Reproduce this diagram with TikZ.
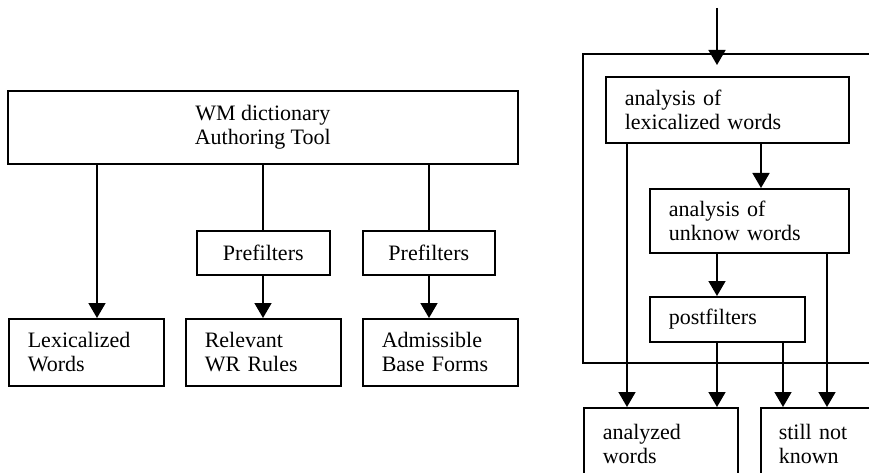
\documentclass[tikz,border=0pt]{standalone}
\usepackage{fontspec}
\setmainfont{Liberation Serif}
\usetikzlibrary{arrows.meta}
\tikzset{
  box/.style={draw, line width=1.6pt, anchor=north west, inner ysep=0pt, font=\fontsize{22}{24}\selectfont},
  lbox/.style={box, align=left, inner xsep=19pt},
  cbox/.style={box, align=center, inner xsep=0pt},
  arr/.style={line width=1.6pt, -{Triangle[width=17pt,length=15pt]}},
  ln/.style={line width=1.6pt},
}
\begin{document}
\begin{tikzpicture}[x=1pt,y=-1pt]
\clip (0,0) rectangle (869,473);
% left part
\node[cbox, minimum width=510pt, minimum height=73pt] (tool) at (7,90) {WM dictionary\\Authoring Tool};
\node[lbox, text width=117pt, minimum height=67pt] (lex) at (8,318) {Lexicalized\\Words};
\node[lbox, text width=117pt, minimum height=67pt] (rel) at (185,318) {Relevant\\WR Rules};
\node[lbox, text width=117pt, minimum height=67pt] (adm) at (362,318) {Admissible\\Base Forms};
\node[cbox, minimum width=133pt, minimum height=44pt] (pre1) at (196,230) {Prefilters};
\node[cbox, minimum width=132pt, minimum height=44pt] (pre2) at (362,230) {Prefilters};
\coordinate (c1) at (97,0);
\coordinate (c2) at (263,0);
\coordinate (c3) at (429,0);
\draw[arr] (tool.south -| c1) -- (lex.north -| c1);
\draw[ln] (tool.south -| c2) -- (pre1.north -| c2);
\draw[arr] (pre1.south -| c2) -- (rel.north -| c2);
\draw[ln] (tool.south -| c3) -- (pre2.north -| c3);
\draw[arr] (pre2.south -| c3) -- (adm.north -| c3);
% right part
\draw[ln] (890,54) -- (583,54) -- (583,363) -- (890,363);
\node[lbox, text width=205pt, minimum height=66pt] (a1) at (605,76) {analysis of\\lexicalized words};
\node[lbox, text width=161pt, minimum height=64pt] (a2) at (649,188) {analysis of\\unknow words};
\node[lbox, text width=117pt, minimum height=45pt] (post) at (649,296) {postfilters};
\node[lbox, text width=116pt, minimum height=72pt] (anw) at (583,407) {analyzed\\words};
\node[lbox, inner xsep=18pt, text width=124pt, minimum height=72pt] (snk) at (760,407) {still not\\known};
\coordinate (in) at (717,8);
\coordinate (d1) at (627,0);
\coordinate (d2) at (717,0);
\coordinate (d3) at (761,0);
\coordinate (d4) at (783,0);
\coordinate (d5) at (827,0);
\draw[arr, shorten >=11pt] (in) -- (a1.north -| in);
\draw[arr] (a1.south -| d1) -- (anw.north -| d1);
\draw[arr] (a1.south -| d3) -- (a2.north -| d3);
\draw[arr] (a2.south -| d2) -- (post.north -| d2);
\draw[arr] (post.south -| d2) -- (anw.north -| d2);
\draw[arr] (post.south -| d4) -- (snk.north -| d4);
\draw[arr] (a2.south -| d5) -- (snk.north -| d5);
\end{tikzpicture}
\end{document}
